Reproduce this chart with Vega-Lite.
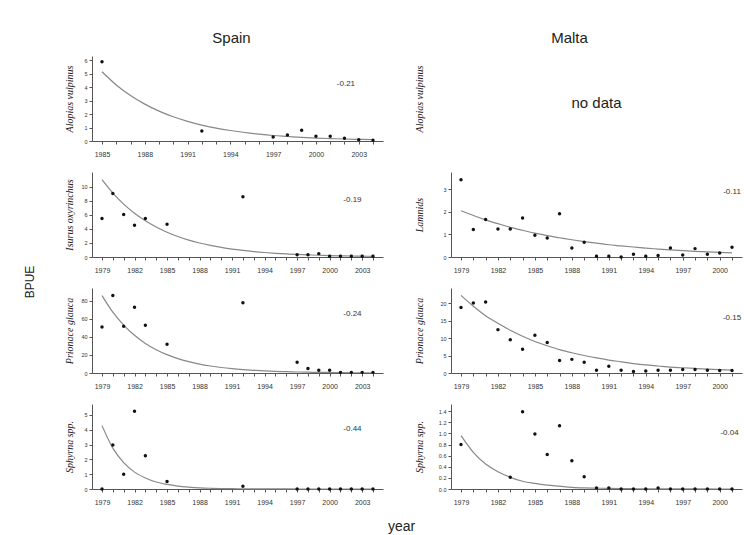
{
  "$schema": "https://vega.github.io/schema/vega-lite/v6.json",
  "background": "white",
  "padding": {"left": 24, "top": 31, "right": 3, "bottom": 3},
  "title": {"text": "BPUE", "orient": "left", "anchor": "middle", "font": "Liberation Sans", "fontSize": 12, "fontWeight": "normal", "color": "#222", "offset": 27},
  "config": {
    "view": {"stroke": null},
    "axis": {"grid": false, "domainColor": "#555", "tickColor": "#555", "labelColor": "#333", "labelFont": "Liberation Sans", "titleFont": "Liberation Serif", "titleFontStyle": "italic", "titleFontWeight": "normal", "titleFontSize": 10, "titleColor": "#222", "labelOverlap": false, "labelFlush": false, "domainWidth": 1},
    "axisX": {"labelFontSize": 7, "tickSize": 3, "labelPadding": 6},
    "axisY": {"labelFontSize": 5.5, "tickSize": 3, "labelPadding": 2},
    "point": {"filled": true, "size": 12, "color": "#111", "opacity": 1},
    "line": {"color": "#888", "strokeWidth": 1.2, "interpolate": "monotone"},
    "text": {"font": "Liberation Sans", "fontSize": 8, "color": "#333"}
  },
  "columns": 2,
  "spacing": {"row": 31, "column": 68},
  "bounds": "flush",
  "concat": [
    {
      "width": 291, "height": 85,
      "title": {"text": "Spain", "font": "Liberation Sans", "fontSize": 15, "fontWeight": "normal", "color": "#222", "frame": "group", "dx": -6, "offset": 10},
      "encoding": {
        "x": {"field": "year", "type": "quantitative", "scale": {"domain": [1985, 2004], "padding": 10, "nice": false, "zero": false},
              "axis": {"title": null, "format": "d", "values": [1985,1986,1987,1988,1989,1990,1991,1992,1993,1994,1995,1996,1997,1998,1999,2000,2001,2002,2003,2004], "labelExpr": "(datum.value - 1979) % 3 === 0 ? datum.label : ''"}},
        "y": {"field": "value", "type": "quantitative", "scale": {"domain": [0, 6.32], "nice": false}, "axis": {"title": "Alopias vulpinus", "values": [0,1,2,3,4,5,6], "titleX": -18}}
      },
      "layer": [
        {"data": {"values": [
          {"year":1985,"value":5.15},{"year":1986,"value":4.17},{"year":1987,"value":3.38},{"year":1988,"value":2.74},{"year":1989,"value":2.22},{"year":1990,"value":1.80},{"year":1991,"value":1.46},{"year":1992,"value":1.18},{"year":1993,"value":0.96},{"year":1994,"value":0.78},{"year":1995,"value":0.63},{"year":1996,"value":0.51},{"year":1997,"value":0.41},{"year":1998,"value":0.34},{"year":1999,"value":0.27},{"year":2000,"value":0.22},{"year":2001,"value":0.18},{"year":2002,"value":0.15},{"year":2003,"value":0.12},{"year":2004,"value":0.10}]},
         "mark": "line"},
        {"data": {"values": [
          {"year":1985,"value":5.9},{"year":1992,"value":0.75},{"year":1997,"value":0.3},{"year":1998,"value":0.45},{"year":1999,"value":0.8},{"year":2000,"value":0.35},{"year":2001,"value":0.35},{"year":2002,"value":0.2},{"year":2003,"value":0.1},{"year":2004,"value":0.05}]},
         "mark": "point"},
        {"data": {"values": [{"year":2002.1,"value":4.24,"label":"-0.21"}]}, "mark": "text", "encoding": {"text": {"field": "label"}}}
      ]
    },
    {
      "width": 291, "height": 85,
      "title": {"text": "Malta", "font": "Liberation Sans", "fontSize": 15, "fontWeight": "normal", "color": "#222", "frame": "group", "dx": -27, "offset": 10},
      "data": {"values": [{"x": 0.5, "y": 0.45, "label": "no data"}]},
      "mark": {"type": "text", "fontSize": 15, "color": "#222"},
      "encoding": {
        "x": {"field": "x", "type": "quantitative", "scale": {"domain": [0, 1]}, "axis": null},
        "y": {"field": "y", "type": "quantitative", "scale": {"domain": [0, 1]}, "axis": {"title": "Alopias vulpinus", "domain": false, "ticks": false, "labels": false, "titleX": -27}},
        "text": {"field": "label"}
      }
    },
    {
      "width": 291, "height": 85,
      "encoding": {
        "x": {"field": "year", "type": "quantitative", "scale": {"domain": [1979, 2004], "padding": 10, "nice": false, "zero": false},
              "axis": {"title": null, "format": "d", "values": [1979,1980,1981,1982,1983,1984,1985,1986,1987,1988,1989,1990,1991,1992,1993,1994,1995,1996,1997,1998,1999,2000,2001,2002,2003,2004], "labelExpr": "(datum.value - 1979) % 3 === 0 ? datum.label : ''"}},
        "y": {"field": "value", "type": "quantitative", "scale": {"domain": [0, 12.1], "nice": false}, "axis": {"title": "Isurus oxyrinchus", "values": [0,2,4,6,8,10], "titleX": -18}}
      },
      "layer": [
        {"data": {"values": [
          {"year":1979,"value":11.0},{"year":1980,"value":9.10},{"year":1981,"value":7.52},{"year":1982,"value":6.22},{"year":1983,"value":5.15},{"year":1984,"value":4.26},{"year":1985,"value":3.52},{"year":1986,"value":2.91},{"year":1987,"value":2.41},{"year":1988,"value":1.99},{"year":1989,"value":1.65},{"year":1990,"value":1.36},{"year":1991,"value":1.12},{"year":1992,"value":0.93},{"year":1993,"value":0.77},{"year":1994,"value":0.64},{"year":1995,"value":0.53},{"year":1996,"value":0.44},{"year":1997,"value":0.36},{"year":1998,"value":0.30},{"year":1999,"value":0.25},{"year":2000,"value":0.20},{"year":2001,"value":0.17},{"year":2002,"value":0.14},{"year":2003,"value":0.12},{"year":2004,"value":0.10}]},
         "mark": "line"},
        {"data": {"values": [
          {"year":1979,"value":5.48},{"year":1980,"value":9.05},{"year":1981,"value":6.05},{"year":1982,"value":4.52},{"year":1983,"value":5.48},{"year":1985,"value":4.67},{"year":1992,"value":8.57},{"year":1997,"value":0.33},{"year":1998,"value":0.33},{"year":1999,"value":0.48},{"year":2000,"value":0.1},{"year":2001,"value":0.1},{"year":2002,"value":0.1},{"year":2003,"value":0.1},{"year":2004,"value":0.1}]},
         "mark": "point"},
        {"data": {"values": [{"year":2002.1,"value":8.1,"label":"-0.19"}]}, "mark": "text", "encoding": {"text": {"field": "label"}}}
      ]
    },
    {
      "width": 291, "height": 85,
      "encoding": {
        "x": {"field": "year", "type": "quantitative", "scale": {"domain": [1979, 2001], "padding": 10, "nice": false, "zero": false},
              "axis": {"title": null, "format": "d", "values": [1979,1980,1981,1982,1983,1984,1985,1986,1987,1988,1989,1990,1991,1992,1993,1994,1995,1996,1997,1998,1999,2000,2001], "labelExpr": "(datum.value - 1979) % 3 === 0 ? datum.label : ''"}},
        "y": {"field": "value", "type": "quantitative", "scale": {"domain": [0, 3.75], "nice": false}, "axis": {"title": "Lamnids", "values": [0,1,2,3], "titleX": -27}}
      },
      "layer": [
        {"data": {"values": [
          {"year":1979,"value":2.04},{"year":1980,"value":1.83},{"year":1981,"value":1.64},{"year":1982,"value":1.47},{"year":1983,"value":1.31},{"year":1984,"value":1.18},{"year":1985,"value":1.05},{"year":1986,"value":0.94},{"year":1987,"value":0.85},{"year":1988,"value":0.76},{"year":1989,"value":0.68},{"year":1990,"value":0.61},{"year":1991,"value":0.54},{"year":1992,"value":0.49},{"year":1993,"value":0.44},{"year":1994,"value":0.39},{"year":1995,"value":0.35},{"year":1996,"value":0.31},{"year":1997,"value":0.28},{"year":1998,"value":0.25},{"year":1999,"value":0.23},{"year":2000,"value":0.20},{"year":2001,"value":0.18}]},
         "mark": "line"},
        {"data": {"values": [
          {"year":1979,"value":3.41},{"year":1980,"value":1.21},{"year":1981,"value":1.65},{"year":1982,"value":1.24},{"year":1983,"value":1.24},{"year":1984,"value":1.72},{"year":1985,"value":0.96},{"year":1986,"value":0.84},{"year":1987,"value":1.91},{"year":1988,"value":0.40},{"year":1989,"value":0.65},{"year":1990,"value":0.03},{"year":1991,"value":0.03},{"year":1992,"value":0.0},{"year":1993,"value":0.12},{"year":1994,"value":0.03},{"year":1995,"value":0.07},{"year":1996,"value":0.40},{"year":1997,"value":0.09},{"year":1998,"value":0.37},{"year":1999,"value":0.12},{"year":2000,"value":0.18},{"year":2001,"value":0.43}]},
         "mark": "point"},
        {"data": {"values": [{"year":2001,"value":2.85,"label":"-0.11"}]}, "mark": "text", "encoding": {"text": {"field": "label"}}}
      ]
    },
    {
      "width": 291, "height": 85,
      "encoding": {
        "x": {"field": "year", "type": "quantitative", "scale": {"domain": [1979, 2004], "padding": 10, "nice": false, "zero": false},
              "axis": {"title": null, "format": "d", "values": [1979,1980,1981,1982,1983,1984,1985,1986,1987,1988,1989,1990,1991,1992,1993,1994,1995,1996,1997,1998,1999,2000,2001,2002,2003,2004], "labelExpr": "(datum.value - 1979) % 3 === 0 ? datum.label : ''"}},
        "y": {"field": "value", "type": "quantitative", "scale": {"domain": [0, 94.4], "nice": false}, "axis": {"title": "Prionace glauca", "values": [0,20,40,60,80], "titleX": -18}}
      },
      "layer": [
        {"data": {"values": [
          {"year":1979,"value":86.0},{"year":1980,"value":67.6},{"year":1981,"value":53.2},{"year":1982,"value":41.9},{"year":1983,"value":32.9},{"year":1984,"value":25.9},{"year":1985,"value":20.4},{"year":1986,"value":16.0},{"year":1987,"value":12.6},{"year":1988,"value":9.9},{"year":1989,"value":7.8},{"year":1990,"value":6.1},{"year":1991,"value":4.8},{"year":1992,"value":3.8},{"year":1993,"value":3.0},{"year":1994,"value":2.3},{"year":1995,"value":1.8},{"year":1996,"value":1.5},{"year":1997,"value":1.1},{"year":1998,"value":0.9},{"year":1999,"value":0.7},{"year":2000,"value":0.6},{"year":2001,"value":0.4},{"year":2002,"value":0.3},{"year":2003,"value":0.3},{"year":2004,"value":0.2}]},
         "mark": "line"},
        {"data": {"values": [
          {"year":1979,"value":51},{"year":1980,"value":86},{"year":1981,"value":52},{"year":1982,"value":73},{"year":1983,"value":53},{"year":1985,"value":32},{"year":1992,"value":78},{"year":1997,"value":12},{"year":1998,"value":5},{"year":1999,"value":3},{"year":2000,"value":3},{"year":2001,"value":0.7},{"year":2002,"value":0.7},{"year":2003,"value":0.7},{"year":2004,"value":0.7}]},
         "mark": "point"},
        {"data": {"values": [{"year":2002.1,"value":66,"label":"-0.24"}]}, "mark": "text", "encoding": {"text": {"field": "label"}}}
      ]
    },
    {
      "width": 291, "height": 85,
      "encoding": {
        "x": {"field": "year", "type": "quantitative", "scale": {"domain": [1979, 2001], "padding": 10, "nice": false, "zero": false},
              "axis": {"title": null, "format": "d", "values": [1979,1980,1981,1982,1983,1984,1985,1986,1987,1988,1989,1990,1991,1992,1993,1994,1995,1996,1997,1998,1999,2000,2001], "labelExpr": "(datum.value - 1979) % 3 === 0 ? datum.label : ''"}},
        "y": {"field": "value", "type": "quantitative", "scale": {"domain": [0, 24.3], "nice": false}, "axis": {"title": "Prionace glauca", "values": [0,5,10,15,20], "titleX": -27}}
      },
      "layer": [
        {"data": {"values": [
          {"year":1979,"value":22.2},{"year":1980,"value":19.1},{"year":1981,"value":16.4},{"year":1982,"value":14.2},{"year":1983,"value":12.2},{"year":1984,"value":10.5},{"year":1985,"value":9.0},{"year":1986,"value":7.8},{"year":1987,"value":6.7},{"year":1988,"value":5.8},{"year":1989,"value":5.0},{"year":1990,"value":4.3},{"year":1991,"value":3.7},{"year":1992,"value":3.2},{"year":1993,"value":2.7},{"year":1994,"value":2.3},{"year":1995,"value":2.0},{"year":1996,"value":1.7},{"year":1997,"value":1.5},{"year":1998,"value":1.3},{"year":1999,"value":1.1},{"year":2000,"value":0.95},{"year":2001,"value":0.82}]},
         "mark": "line"},
        {"data": {"values": [
          {"year":1979,"value":18.7},{"year":1980,"value":20.0},{"year":1981,"value":20.3},{"year":1982,"value":12.4},{"year":1983,"value":9.5},{"year":1984,"value":6.8},{"year":1985,"value":10.8},{"year":1986,"value":8.7},{"year":1987,"value":3.6},{"year":1988,"value":3.9},{"year":1989,"value":3.1},{"year":1990,"value":0.8},{"year":1991,"value":1.9},{"year":1992,"value":0.8},{"year":1993,"value":0.4},{"year":1994,"value":0.6},{"year":1995,"value":0.8},{"year":1996,"value":0.8},{"year":1997,"value":1.0},{"year":1998,"value":1.0},{"year":1999,"value":0.8},{"year":2000,"value":0.7},{"year":2001,"value":0.7}]},
         "mark": "point"},
        {"data": {"values": [{"year":2001,"value":15.8,"label":"-0.15"}]}, "mark": "text", "encoding": {"text": {"field": "label"}}}
      ]
    },
    {
      "width": 291, "height": 85,
      "encoding": {
        "x": {"field": "year", "type": "quantitative", "scale": {"domain": [1979, 2004], "padding": 10, "nice": false, "zero": false},
              "axis": {"title": "year", "titleFont": "Liberation Sans", "titleFontStyle": "normal", "titleFontSize": 14, "titleX": 309, "titleY": 30, "titleBaseline": "top", "format": "d", "values": [1979,1980,1981,1982,1983,1984,1985,1986,1987,1988,1989,1990,1991,1992,1993,1994,1995,1996,1997,1998,1999,2000,2001,2002,2003,2004], "labelExpr": "(datum.value - 1979) % 3 === 0 ? datum.label : ''"}},
        "y": {"field": "value", "type": "quantitative", "scale": {"domain": [0, 5.74], "nice": false}, "axis": {"title": "Sphyrna spp.", "values": [0,1,2,3,4,5], "titleX": -18}}
      },
      "layer": [
        {"data": {"values": [
          {"year":1979,"value":4.28},{"year":1980,"value":2.76},{"year":1981,"value":1.78},{"year":1982,"value":1.14},{"year":1983,"value":0.74},{"year":1984,"value":0.47},{"year":1985,"value":0.31},{"year":1986,"value":0.20},{"year":1987,"value":0.13},{"year":1988,"value":0.08},{"year":1989,"value":0.05},{"year":1990,"value":0.03},{"year":1991,"value":0.02},{"year":1992,"value":0.014},{"year":1993,"value":0.009},{"year":1994,"value":0.006},{"year":1995,"value":0.004},{"year":1996,"value":0.0025},{"year":1997,"value":0.0016},{"year":1998,"value":0.001},{"year":1999,"value":0.0007},{"year":2000,"value":0.0004},{"year":2001,"value":0.0003},{"year":2002,"value":0.0002},{"year":2003,"value":0.0001},{"year":2004,"value":0.0001}]},
         "mark": "line"},
        {"data": {"values": [
          {"year":1979,"value":0},{"year":1980,"value":2.97},{"year":1981,"value":1.0},{"year":1982,"value":5.25},{"year":1983,"value":2.25},{"year":1985,"value":0.5},{"year":1992,"value":0.18},{"year":1997,"value":0},{"year":1998,"value":0},{"year":1999,"value":0},{"year":2000,"value":0},{"year":2001,"value":0},{"year":2002,"value":0},{"year":2003,"value":0},{"year":2004,"value":0}]},
         "mark": "point"},
        {"data": {"values": [{"year":2002.1,"value":4.05,"label":"-0.44"}]}, "mark": "text", "encoding": {"text": {"field": "label"}}}
      ]
    },
    {
      "width": 291, "height": 85,
      "encoding": {
        "x": {"field": "year", "type": "quantitative", "scale": {"domain": [1979, 2001], "padding": 10, "nice": false, "zero": false},
              "axis": {"title": null, "format": "d", "values": [1979,1980,1981,1982,1983,1984,1985,1986,1987,1988,1989,1990,1991,1992,1993,1994,1995,1996,1997,1998,1999,2000,2001], "labelExpr": "(datum.value - 1979) % 3 === 0 ? datum.label : ''"}},
        "y": {"field": "value", "type": "quantitative", "scale": {"domain": [0, 1.53], "nice": false}, "axis": {"title": "Sphyrna spp.", "values": [0,0.2,0.4,0.6,0.8,1.0,1.2,1.4], "format": ".1f", "titleX": -27}}
      },
      "layer": [
        {"data": {"values": [
          {"year":1979,"value":0.96},{"year":1980,"value":0.66},{"year":1981,"value":0.45},{"year":1982,"value":0.31},{"year":1983,"value":0.21},{"year":1984,"value":0.14},{"year":1985,"value":0.10},{"year":1986,"value":0.07},{"year":1987,"value":0.05},{"year":1988,"value":0.03},{"year":1989,"value":0.02},{"year":1990,"value":0.015},{"year":1991,"value":0.01},{"year":1992,"value":0.007},{"year":1993,"value":0.005},{"year":1994,"value":0.003},{"year":1995,"value":0.002},{"year":1996,"value":0.0015},{"year":1997,"value":0.001},{"year":1998,"value":0.0007},{"year":1999,"value":0.0005},{"year":2000,"value":0.0003},{"year":2001,"value":0.0002}]},
         "mark": "line"},
        {"data": {"values": [
          {"year":1979,"value":0.80},{"year":1983,"value":0.21},{"year":1984,"value":1.39},{"year":1985,"value":0.99},{"year":1986,"value":0.62},{"year":1987,"value":1.14},{"year":1988,"value":0.51},{"year":1989,"value":0.22},{"year":1990,"value":0.02},{"year":1991,"value":0.02},{"year":1992,"value":0},{"year":1993,"value":0},{"year":1994,"value":0},{"year":1995,"value":0.02},{"year":1996,"value":0},{"year":1997,"value":0},{"year":1998,"value":0},{"year":1999,"value":0},{"year":2000,"value":0},{"year":2001,"value":0}]},
         "mark": "point"},
        {"data": {"values": [{"year":2000.8,"value":1.0,"label":"-0.04"}]}, "mark": "text", "encoding": {"text": {"field": "label"}}}
      ]
    }
  ]
}
